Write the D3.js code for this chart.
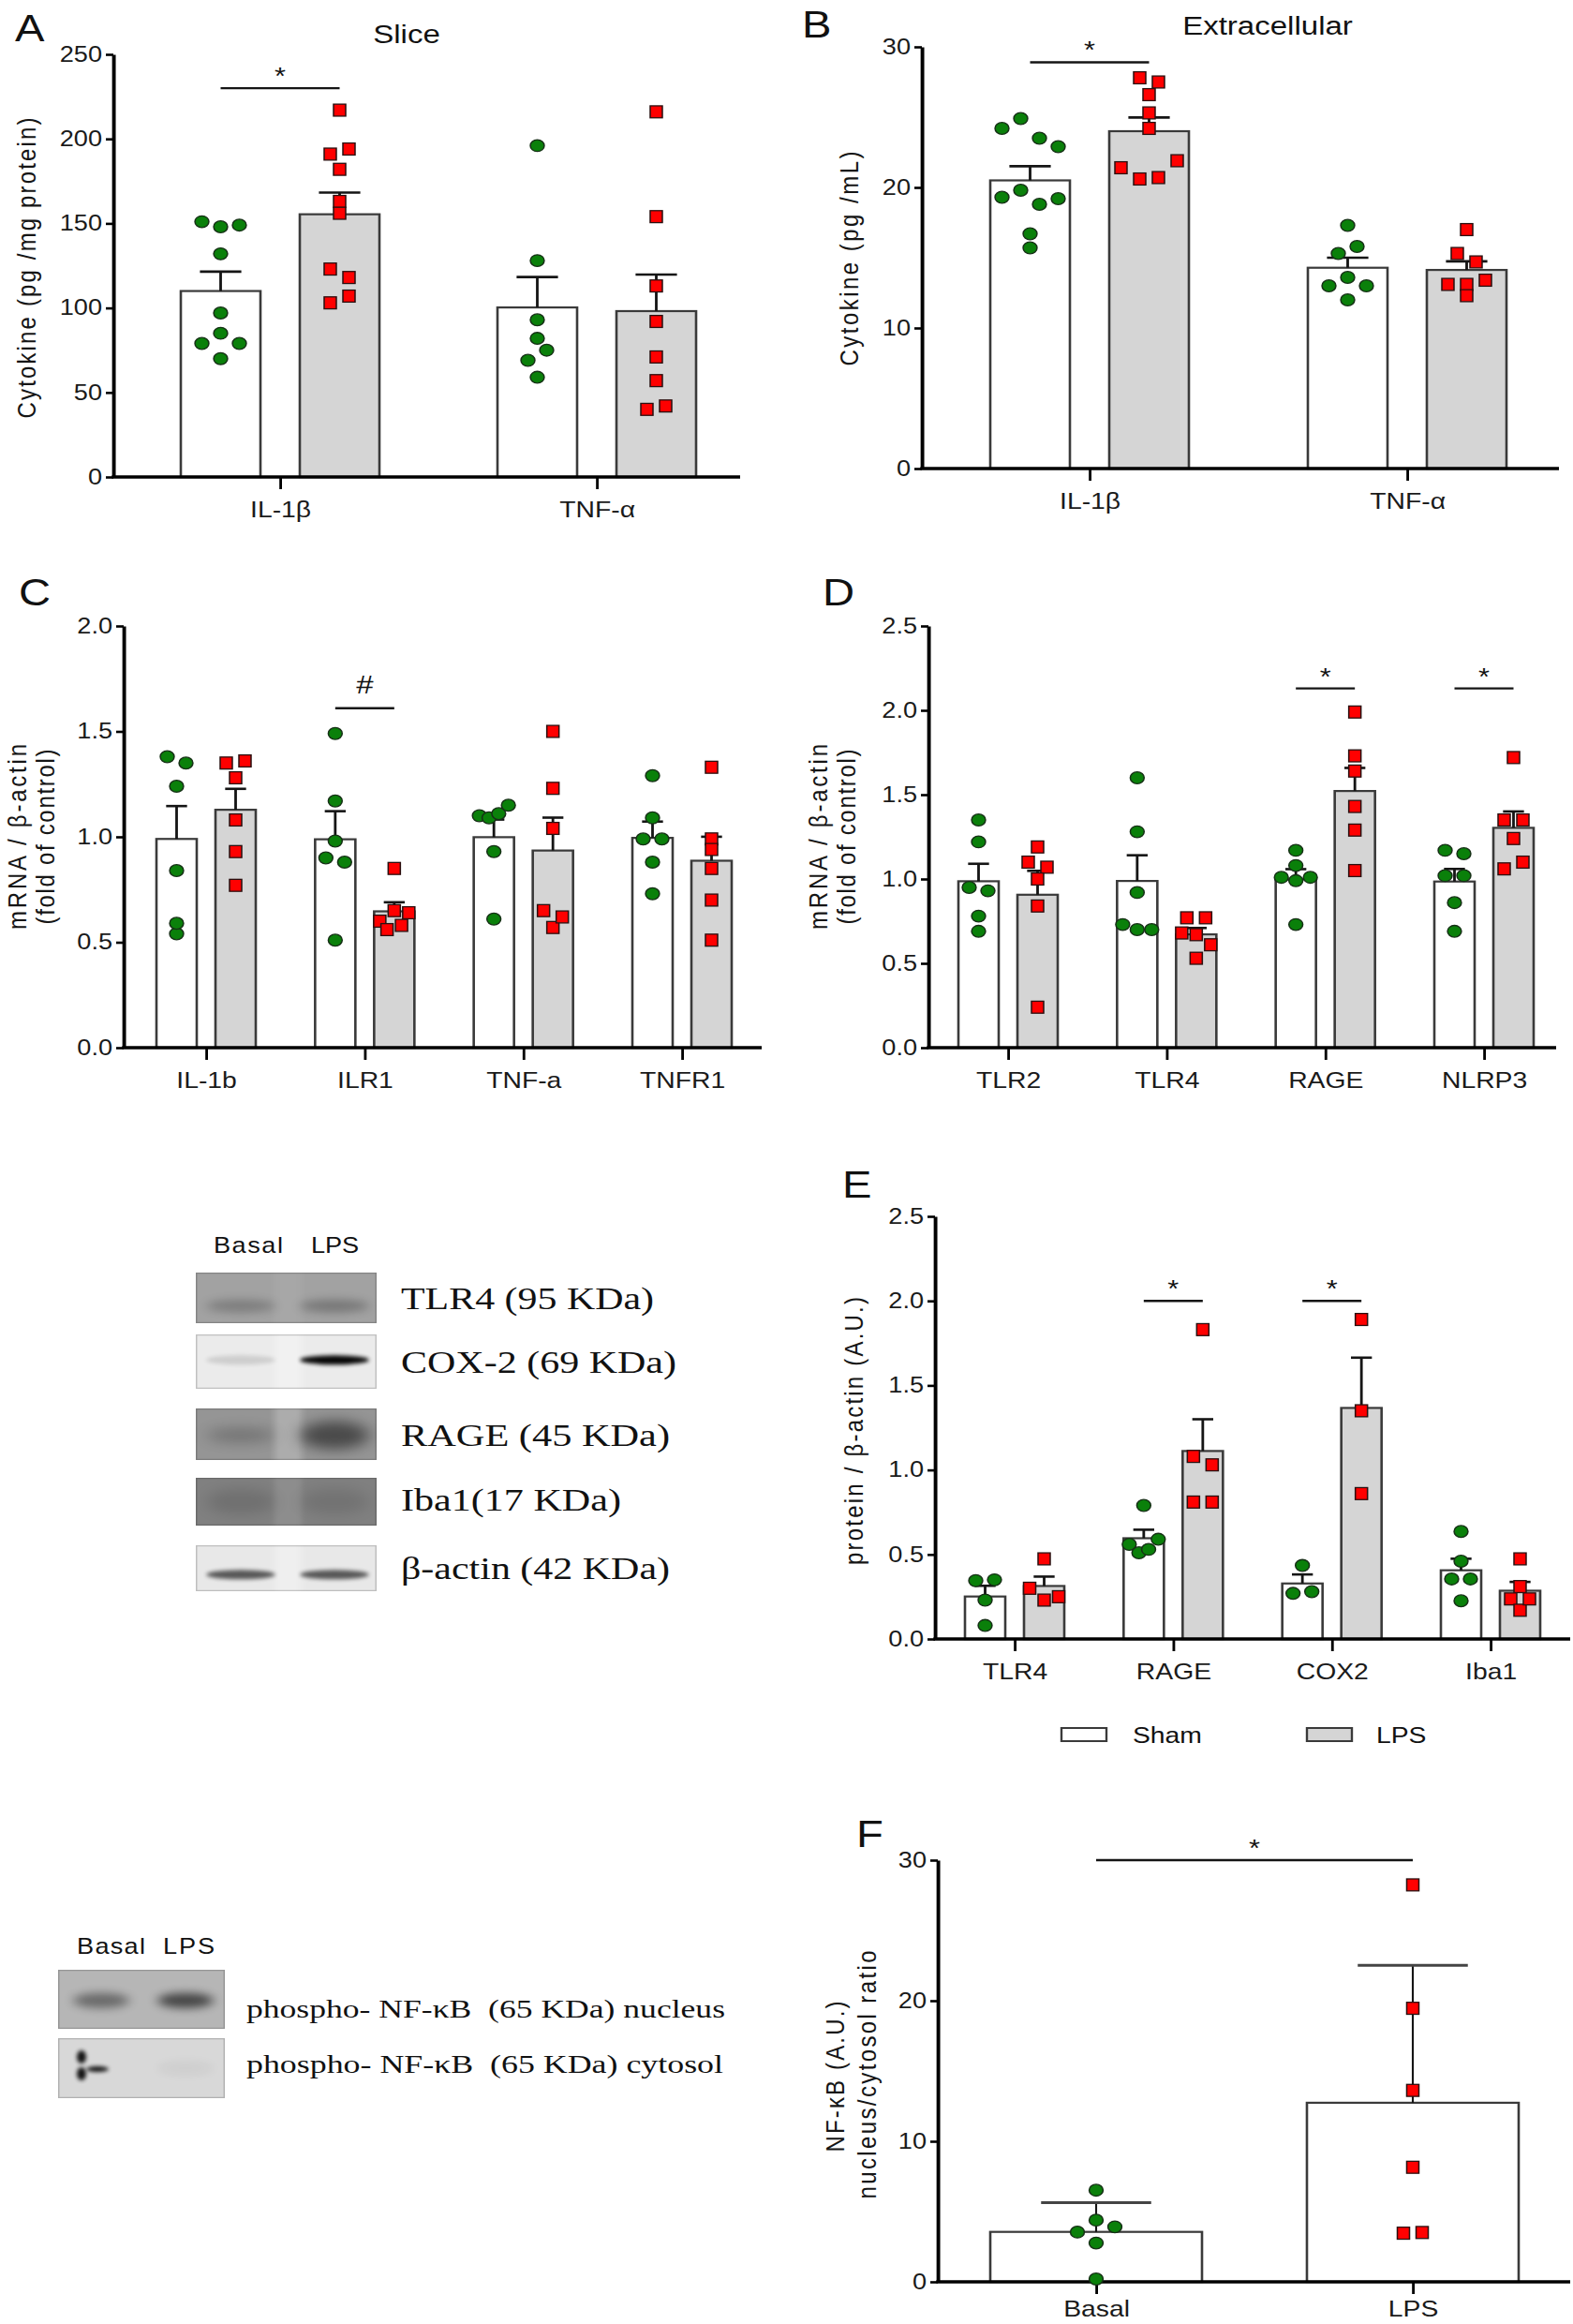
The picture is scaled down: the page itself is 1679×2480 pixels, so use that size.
<!DOCTYPE html>
<html><head><meta charset="utf-8">
<script src="https://cdn.jsdelivr.net/npm/d3@7/dist/d3.min.js"></script>
<style>
html,body{margin:0;padding:0;background:#fff;}
svg{display:block;}
</style></head>
<body>
<svg id="fig" width="1679" height="2480" xmlns="http://www.w3.org/2000/svg"></svg>
<script>
// ================= DATA =================
// Panel A – Slice cytokines (pg/mg protein)
const catsA = ["IL-1β", "TNF-α"];
const shamA = [[151, 148, 149, 132, 97, 79, 85, 79, 70], [196, 128, 93, 82, 69, 75, 59]];
const lpsA  = [[217, 191, 194, 182, 163, 156, 123, 118, 103, 107], [216, 154, 113, 92, 71, 57, 40, 42]];
const ticksA = [0, 50, 100, 150, 200, 250];
const sigA = [{cat: "IL-1β", mark: "*", at: 230}];

// Panel B – Extracellular cytokines (pg/mL)
const catsB = ["IL-1β", "TNF-α"];
const shamB = [[24.2, 24.9, 23.5, 22.9, 19.3, 19.8, 18.8, 19.2, 16.7, 15.7], [17.3, 15.3, 15.8, 13.0, 13.6, 13.0, 12.0]];
const lpsB  = [[27.8, 27.5, 26.6, 25.3, 24.2, 21.4, 20.6, 20.7, 21.9], [17.0, 15.3, 14.7, 13.1, 13.1, 13.4, 12.3]];
const ticksB = [0, 10, 20, 30];
const sigB = [{cat: "IL-1β", mark: "*", at: 28.9}];

// Panel C – mRNA / β-actin
const catsC = ["IL-1b", "ILR1", "TNF-a", "TNFR1"];
const shamC = [[1.38, 1.35, 1.24, 0.84, 0.54, 0.59], [1.49, 1.17, 0.98, 0.90, 0.88, 0.51],
               [1.10, 1.09, 1.11, 1.15, 0.93, 0.61], [1.29, 1.09, 0.99, 0.99, 0.88, 0.73]];
const lpsC  = [[1.35, 1.36, 1.28, 1.08, 0.93, 0.77], [0.85, 0.60, 0.56, 0.65, 0.58, 0.64],
               [1.50, 1.23, 1.04, 0.65, 0.57, 0.62], [1.33, 0.99, 0.94, 0.85, 0.70, 0.51]];
const ticksC = [0, 0.5, 1.0, 1.5, 2.0];
const sigC = [{cat: "ILR1", mark: "#", at: 1.61}];

// Panel D – mRNA / β-actin
const catsD = ["TLR2", "TLR4", "RAGE", "NLRP3"];
const shamD = [[1.35, 1.22, 0.95, 0.93, 0.78, 0.69], [1.60, 1.28, 0.92, 0.73, 0.70, 0.70],
               [1.17, 1.08, 1.01, 0.99, 1.01, 0.73], [1.17, 1.15, 1.02, 1.02, 0.86, 0.69]];
const lpsD  = [[1.19, 1.10, 1.07, 1.00, 0.84, 0.24], [0.77, 0.77, 0.68, 0.67, 0.61, 0.53],
               [1.99, 1.73, 1.64, 1.43, 1.29, 1.05], [1.72, 1.35, 1.35, 1.24, 1.06, 1.10]];
const ticksD = [0, 0.5, 1.0, 1.5, 2.0, 2.5];
const sigD = [{cat: "RAGE", mark: "*", at: 2.13}, {cat: "NLRP3", mark: "*", at: 2.13}];

// Panel E – protein / β-actin (A.U.)
const catsE = ["TLR4", "RAGE", "COX2", "Iba1"];
const shamE = [[0.345, 0.35, 0.23, 0.08], [0.79, 0.56, 0.51, 0.53, 0.59], [0.435, 0.27, 0.28], [0.636, 0.46, 0.355, 0.355, 0.226]];
const lpsE  = [[0.474, 0.30, 0.23, 0.25], [1.83, 1.08, 1.03, 0.81, 0.81], [1.89, 1.35, 0.86], [0.474, 0.31, 0.237, 0.17, 0.237]];
const ticksE = [0, 0.5, 1.0, 1.5, 2.0, 2.5];
const sigE = [{cat: "RAGE", mark: "*", at: 2.0}, {cat: "COX2", mark: "*", at: 2.0}];
const legendLabels = ["Sham", "LPS"];

// Panel F – NF-κB nucleus/cytosol ratio
const catsF = ["Basal", "LPS"];
const valsF = [[6.52, 3.54, 4.39, 3.91, 2.76, 0.2], [28.24, 19.46, 13.62, 8.15, 3.46, 3.51]];
const ticksF = [0, 10, 20, 30];
const sigF = {mark: "*", at: 30};

// Western blots
const blotLanes = ["Basal", "LPS"];
const blot1Labels = ["TLR4 (95 KDa)", "COX-2 (69 KDa)", "RAGE (45 KDa)", "Iba1(17 KDa)", "β-actin (42 KDa)"];
const blot1Background = ["#a2a2a2", "#ebebeb", "#959595", "#808080", "#e8e8e8"];
const blot1BandDensity = [[0.22, 0.26], [0.12, 0.97], [0.22, 0.5], [0.12, 0.1], [0.62, 0.62]];
const blot2Labels = ["phospho- NF-κB  (65 KDa) nucleus", "phospho- NF-κB  (65 KDa) cytosol"];
const blot2Background = ["#b6b6b6", "#d8d8d8"];
const blot2BandDensity = [[0.42, 0.62], [0.9, 0.04]];

// ================= RENDER =================
const S = 1.18;              // horizontal stretch of the original figure
const X = v => v / S;
const SANS = "'Liberation Sans', Arial, Helvetica, sans-serif";
const SERIF = "'Liberation Serif', 'Times New Roman', Times, serif";
const GREEN = "#0a800a", RED = "#ff0000", LPSFILL = "#d5d5d5";

const svg = d3.select("#fig");
svg.append("rect").attr("width", 1679).attr("height", 2480).attr("fill", "#fff");
const defs = svg.append("defs");
function blurF(id, sd) {
  defs.append("filter").attr("id", id).attr("x", "-60%").attr("y", "-150%").attr("width", "220%").attr("height", "400%")
    .append("feGaussianBlur").attr("stdDeviation", sd);
}
blurF("b2", 2); blurF("b3", 3); blurF("b5", 5); blurF("b7", 7);
const root = svg.append("g").attr("transform", `scale(${S},1)`);

function addText(g, x, y, str, o = {}) {
  const t = g.append("text").attr("x", X(x)).attr("y", y).text(str)
    .attr("font-family", o.family || SANS).attr("font-size", o.size || 24)
    .attr("fill", o.fill || "#111").attr("text-anchor", o.anchor || "start");
  if (o.len) t.attr("textLength", X(o.len)).attr("lengthAdjust", o.adjust || "spacingAndGlyphs");
  if (o.pre) t.style("white-space", "pre");
  return t;
}
function vlabel(g, cx, cy, str, len, size = 24) {
  g.append("text").attr("transform", `translate(${X(cx)},${cy}) rotate(-90)`)
    .attr("text-anchor", "middle").attr("dy", "0.35em")
    .attr("font-family", SANS).attr("font-size", size).attr("fill", "#151515")
    .attr("textLength", len).attr("lengthAdjust", "spacing").text(str);
}

function spread(vals, y, cx, bw) {
  const thr = 11, d = X(20), maxS = 0.72 * bw;
  const order = vals.map((v, i) => i).sort((a, b) => vals[b] - vals[a] || a - b);
  const clusters = [];
  let cur = [order[0]];
  for (let k = 1; k < order.length; k++) {
    if (y(vals[order[k]]) - y(vals[order[k - 1]]) < thr) cur.push(order[k]);
    else { clusters.push(cur); cur = [order[k]]; }
  }
  clusters.push(cur);
  const out = new Array(vals.length);
  clusters.forEach(c => {
    c.sort((a, b) => a - b);
    const n = c.length, step = n > 1 ? Math.min(d, maxS / (n - 1)) : 0;
    c.forEach((idx, i) => out[idx] = {v: vals[idx], x: cx + (i - (n - 1) / 2) * step, y: y(vals[idx])});
  });
  return out;
}

function barLayer(g, cx, vals, y, bw, fill, errType) {
  const m = d3.mean(vals), sd = d3.deviation(vals);
  const e = errType === "SD" ? sd : sd / Math.sqrt(vals.length);
  g.append("rect").attr("x", cx - bw / 2).attr("y", y(m)).attr("width", bw).attr("height", y(0) - y(m))
    .attr("fill", fill).attr("stroke", "#3a3a3a").attr("stroke-width", 2.2);
  const cap = bw * 0.52;
  g.append("line").attr("x1", cx).attr("x2", cx).attr("y1", y(m)).attr("y2", y(m + e))
    .attr("stroke", "#151515").attr("stroke-width", errType === "SD" ? 1.8 : 2.4);
  g.append("line").attr("x1", cx - cap / 2).attr("x2", cx + cap / 2).attr("y1", y(m + e)).attr("y2", y(m + e))
    .attr("stroke", errType === "SD" ? "#444" : "#151515").attr("stroke-width", errType === "SD" ? 3 : 2.6);
}
function pointLayer(g, cx, vals, y, bw, shape) {
  const pts = spread(vals, y, cx, bw);
  if (shape === "circle") {
    g.selectAll(null).data(pts).join("circle").attr("cx", d => d.x).attr("cy", d => d.y).attr("r", 6.3)
      .attr("fill", GREEN).attr("stroke", "#163016").attr("stroke-width", 1.3);
  } else {
    g.selectAll(null).data(pts).join("rect").attr("x", d => d.x - 5.5).attr("y", d => d.y - 6.4)
      .attr("width", 11).attr("height", 12.8)
      .attr("fill", RED).attr("stroke", "#2a1010").attr("stroke-width", 1.3);
  }
}
function axes(g, cfg, x, y, ticks, fmt) {
  const ya = g.append("g").attr("transform", `translate(${X(cfg.ax)},0)`)
    .call(d3.axisLeft(y).tickValues(ticks).tickFormat(fmt).tickSize(X(8)).tickPadding(X(4)).tickSizeOuter(0));
  ya.attr("font-family", null).attr("font-size", null);
  ya.select(".domain").attr("stroke", "#000").attr("stroke-width", 3.3);
  ya.selectAll(".tick line").attr("stroke", "#000").attr("stroke-width", 2.6);
  ya.selectAll(".tick text").attr("font-family", SANS).attr("font-size", 23).attr("fill", "#1a1a1a");
  g.append("line").attr("x1", X(cfg.ax) - 1.4).attr("x2", X(cfg.ar)).attr("y1", cfg.y0).attr("y2", cfg.y0)
    .attr("stroke", "#000").attr("stroke-width", 3.6);
  const xa = g.append("g").attr("transform", `translate(0,${cfg.y0})`)
    .call(d3.axisBottom(x).tickSize(13).tickPadding(cfg.xPad == null ? 13 : cfg.xPad));
  xa.attr("font-family", null).attr("font-size", null);
  xa.select(".domain").remove();
  xa.selectAll(".tick line").attr("stroke", "#000").attr("stroke-width", 2.4);
  xa.selectAll(".tick text").attr("font-family", SANS).attr("font-size", 24).attr("fill", "#1a1a1a");
}
function sigMark(g, x1, x2, yv, mark) {
  g.append("line").attr("x1", x1).attr("x2", x2).attr("y1", yv).attr("y2", yv)
    .attr("stroke", "#151515").attr("stroke-width", 2.4);
  g.append("text").attr("x", (x1 + x2) / 2).attr("y", mark === "#" ? yv - 16 : yv - 4)
    .attr("text-anchor", "middle").attr("font-family", SANS).attr("font-size", mark === "#" ? 28 : 26)
    .attr("fill", "#111").text(mark);
}

function groupedPanel(cfg, cats, sham, lps, ticks, fmt, sigs) {
  const g = root.append("g");
  const y = d3.scaleLinear().domain([0, d3.max(ticks)]).range([cfg.y0, cfg.yTop]);
  const x = d3.scalePoint().domain(cats).range([X(cfg.c0), X(cfg.c1)]);
  const bw = X(cfg.bw), off = X(cfg.off);
  cats.forEach((c, i) => {
    barLayer(g, x(c) - off, sham[i], y, bw, "#fff", "SEM");
    barLayer(g, x(c) + off, lps[i], y, bw, LPSFILL, "SEM");
  });
  sigs.forEach(s => sigMark(g, x(s.cat) - off, x(s.cat) + off, y(s.at), s.mark));
  axes(g, cfg, x, y, ticks, fmt);
  cats.forEach((c, i) => {
    pointLayer(g, x(c) - off, sham[i], y, bw, "circle");
    pointLayer(g, x(c) + off, lps[i], y, bw, "square");
  });
  return g;
}

const f0 = d3.format("d"), f1 = d3.format(".1f");

// Panel A
const gA = groupedPanel({ax: 121, ar: 790, yTop: 58, y0: 509, c0: 299, c1: 637, bw: 85, off: 63.5}, catsA, shamA, lpsA, ticksA, f0, sigA);
addText(gA, 16, 44, "A", {size: 40});
addText(gA, 434, 46, "Slice", {size: 28, anchor: "middle"});
vlabel(gA, 28, 286, "Cytokine (pg /mg protein)", 321);

// Panel B
const gB = groupedPanel({ax: 984, ar: 1664, yTop: 50, y0: 500, c0: 1163, c1: 1502, bw: 85, off: 63.5}, catsB, shamB, lpsB, ticksB, f0, sigB);
addText(gB, 856, 40, "B", {size: 40});
addText(gB, 1353, 37, "Extracellular", {size: 28, anchor: "middle"});
vlabel(gB, 906, 276, "Cytokine (pg /mL)", 229);

// Panel C
const gC = groupedPanel({ax: 132, ar: 813, yTop: 668, y0: 1118, c0: 220, c1: 728, bw: 43, off: 31.5}, catsC, shamC, lpsC, ticksC, f1, sigC);
addText(gC, 20, 646, "C", {size: 40});
vlabel(gC, 18.5, 893, "mRNA / β-actin", 198);
vlabel(gC, 48, 893, "(fold of control)", 187);

// Panel D
const gD = groupedPanel({ax: 991, ar: 1661, yTop: 668, y0: 1118, c0: 1076, c1: 1584, bw: 43, off: 31.5}, catsD, shamD, lpsD, ticksD, f1, sigD);
addText(gD, 878, 646, "D", {size: 40});
vlabel(gD, 873, 893, "mRNA / β-actin", 198);
vlabel(gD, 903, 893, "(fold of control)", 187);

// Panel E
const gE = groupedPanel({ax: 998, ar: 1676, yTop: 1298, y0: 1749, c0: 1083, c1: 1591, bw: 43, off: 31.5}, catsE, shamE, lpsE, ticksE, f1, sigE);
addText(gE, 899, 1278, "E", {size: 40});
vlabel(gE, 911, 1527, "protein / β-actin (A.U.)", 286);
// legend
const legItems = [{label: legendLabels[0], fill: "#fff", bx: 1133, tx: 1209}, {label: legendLabels[1], fill: LPSFILL, bx: 1395, tx: 1469}];
legItems.forEach(d => {
  gE.append("rect").attr("x", X(d.bx)).attr("y", 1844).attr("width", X(48)).attr("height", 14)
    .attr("fill", d.fill).attr("stroke", "#3a3a3a").attr("stroke-width", 2);
  addText(gE, d.tx, 1860, d.label, {size: 24});
});

// Panel F
(function () {
  const cfg = {ax: 1001, ar: 1676, yTop: 1985, y0: 2435, c0: 1170, c1: 1508, bw: 226, xPad: 7};
  const g = root.append("g");
  const y = d3.scaleLinear().domain([0, d3.max(ticksF)]).range([cfg.y0, cfg.yTop]);
  const x = d3.scalePoint().domain(catsF).range([X(cfg.c0), X(cfg.c1)]);
  const bw = X(cfg.bw);
  catsF.forEach((c, i) => barLayer(g, x(c), valsF[i], y, bw, "#fff", "SD"));
  sigMark(g, x(catsF[0]), x(catsF[1]), y(sigF.at), sigF.mark);
  axes(g, cfg, x, y, ticksF, f0);
  pointLayer(g, x(catsF[0]), valsF[0], y, bw, "circle");
  pointLayer(g, x(catsF[1]), valsF[1], y, bw, "square");
  addText(g, 914, 1971, "F", {size: 40});
  vlabel(g, 891, 2216, "NF-κB  (A.U.)", 161);
  vlabel(g, 925, 2214, "nucleus/cytosol ratio", 265);
})();

// Western blots
function blot(cfg, labels, bgs, dens) {
  const g = root.append("g");
  addText(g, cfg.hBasal[0], cfg.hy, blotLanes[0], {size: 23, len: cfg.hBasal[1], adjust: "spacing"});
  addText(g, cfg.hLPS[0], cfg.hy, blotLanes[1], {size: 23, len: cfg.hLPS[1], adjust: "spacing"});
  labels.forEach((lab, i) => {
    const [t, b] = cfg.rows[i];
    const cid = cfg.id + "c" + i;
    defs.append("clipPath").attr("id", cid).append("rect")
      .attr("x", X(cfg.sx0)).attr("y", t).attr("width", X(cfg.sx1 - cfg.sx0)).attr("height", b - t);
    const sg = g.append("g").attr("clip-path", `url(#${cid})`);
    sg.append("rect").attr("x", X(cfg.sx0)).attr("y", t).attr("width", X(cfg.sx1 - cfg.sx0)).attr("height", b - t)
      .attr("fill", bgs[i]);
    if (cfg.gap[i] > 0) {
      sg.append("rect").attr("x", X(cfg.gapX[0])).attr("y", t - 10).attr("width", X(cfg.gapX[1] - cfg.gapX[0])).attr("height", b - t + 20)
        .attr("fill", "#fff").attr("opacity", cfg.gap[i]).attr("filter", "url(#b3)");
    }
    const yc = t + (b - t) * cfg.bandFy[i];
    dens[i].forEach((dv, l) => {
      if (cfg.spots && cfg.spots[i] && cfg.spots[i][l]) {
        cfg.spots[i][l].forEach(s => sg.append("ellipse").attr("cx", X(s[0])).attr("cy", s[1]).attr("rx", X(s[2])).attr("ry", s[3])
          .attr("fill", "#000").attr("opacity", dv).attr("filter", "url(#b2)"));
        return;
      }
      const ry = Array.isArray(cfg.bandRy[i]) ? cfg.bandRy[i][l] : cfg.bandRy[i];
      sg.append("ellipse").attr("cx", X(cfg.lanes[l])).attr("cy", yc).attr("rx", X(cfg.laneHalf)).attr("ry", ry)
        .attr("fill", "#000").attr("opacity", dv).attr("filter", `url(#${cfg.bandBlur[i]})`);
    });
    sg.append("rect").attr("x", X(cfg.sx0)).attr("y", t).attr("width", X(cfg.sx1 - cfg.sx0)).attr("height", b - t)
      .attr("fill", "none").attr("stroke", "#000").attr("stroke-opacity", 0.18).attr("stroke-width", 2.5);
    addText(g, cfg.labelX, cfg.base[i], lab, {family: SERIF, size: cfg.labelSize, len: cfg.lens[i], pre: true});
  });
}

blot({
  id: "w1", hy: 1337, hBasal: [228, 74], hLPS: [332, 51],
  sx0: 209, sx1: 402,
  rows: [[1358, 1412], [1424, 1482], [1503, 1558], [1577, 1628], [1649, 1698]],
  lanes: [257, 357], laneHalf: 37,
  bandFy: [0.66, 0.47, 0.52, 0.5, 0.64],
  bandRy: [7, 5, [8, 15], 14, 5],
  bandBlur: ["b5", "b2", "b7", "b7", "b2"],
  gap: [0.05, 0.3, 0.22, 0.1, 0.3], gapX: [293, 322],
  labelX: 428, base: [1397, 1465, 1543, 1612, 1685], lens: [270, 294, 287, 235, 287], labelSize: 34
}, blot1Labels, blot1Background, blot1BandDensity);

blot({
  id: "w2", hy: 2085, hBasal: [82, 73], hLPS: [174, 55],
  sx0: 62, sx1: 240,
  rows: [[2102, 2165], [2175, 2239]],
  lanes: [108, 198], laneHalf: 30,
  bandFy: [0.52, 0.5],
  bandRy: [8, 8],
  bandBlur: ["b5", "b5"],
  gap: [0, 0], gapX: [150, 160],
  spots: [null, [[[87, 2195, 5, 7], [87, 2213, 5, 7], [104, 2208, 12, 3]], null]],
  labelX: 263, base: [2153, 2212], lens: [511, 509], labelSize: 27
}, blot2Labels, blot2Background, blot2BandDensity);
</script>
</body></html>
